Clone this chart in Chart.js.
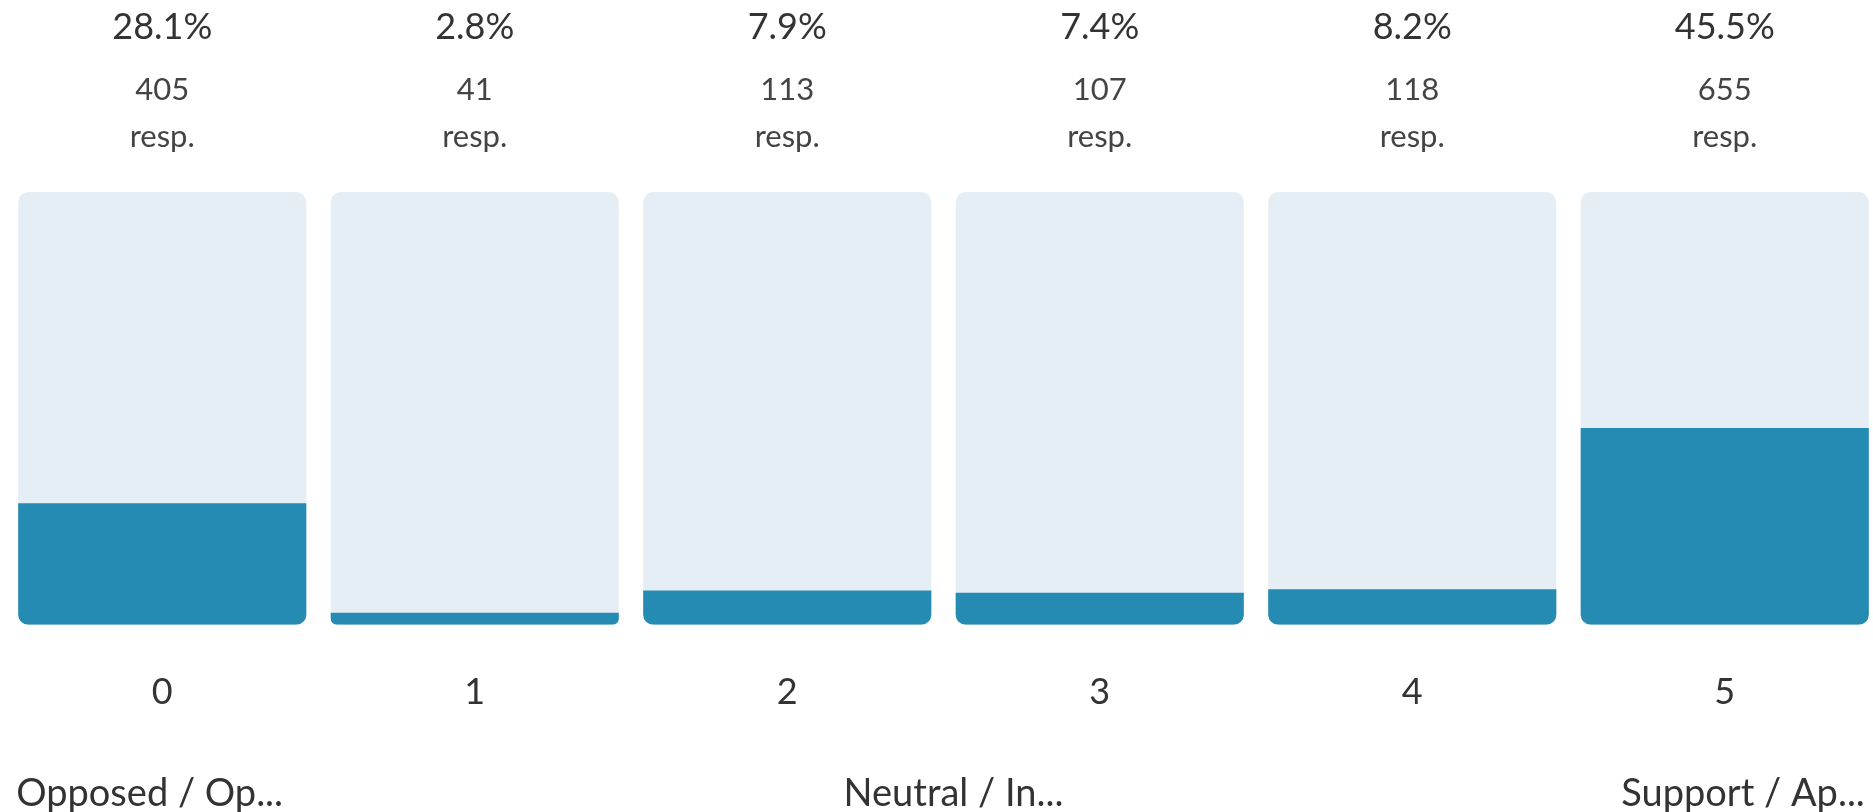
<!DOCTYPE html>
<html>
<head>
<meta charset="utf-8">
<script src="https://cdn.jsdelivr.net/npm/chart.js@4.4.1/dist/chart.umd.min.js"></script>
<style>
    html, body { margin: 0; padding: 0; background: #fff; overflow: hidden; }
    #wrap { width: 1881px; height: 812px; position: relative; }
</style>
</head>
<body>
<div id="wrap"><canvas id="chart"></canvas></div>
<script>
// Scale points and answers
const scaleLabels = ["0", "1", "2", "3", "4", "5"];
const percents = [28.1, 2.8, 7.9, 7.4, 8.2, 45.5];
const counts = [405, 41, 113, 107, 118, 655];
const trackValues = [100, 100, 100, 100, 100, 100];
const anchorLabels = ["Opposed / Op...", "Neutral / In...", "Support / Ap..."];

const FONT = "Lato, 'Noto Sans', sans-serif";
const FILL = "#258bb2";
const TRACK = "#e6eef5";

// Draws the percent / count labels above each bar and the anchor labels at the bottom
const labelPlugin = {
    id: "labels",
    afterDraw(chart) {
        const ctx = chart.ctx;
        const meta = chart.getDatasetMeta(1);
        ctx.save();
        ctx.textAlign = "center";
        ctx.textBaseline = "alphabetic";
        meta.data.forEach((bar, i) => {
            ctx.fillStyle = "#333";
            ctx.font = "36px " + FONT;
            ctx.fillText(percents[i].toFixed(1) + "%", bar.x, 39);
            ctx.fillStyle = "#444";
            ctx.font = "31px " + FONT;
            ctx.fillText(String(counts[i]), bar.x, 100);
            ctx.fillText("resp.", bar.x, 147);
        });

        // anchor labels under the scale
        const first = meta.data[0];
        const last = meta.data[meta.data.length - 1];
        const left = first.x - first.width / 2;
        const right = last.x + last.width / 2;
        ctx.fillStyle = "#333";
        ctx.font = "38px " + FONT;
        ctx.textAlign = "left";
        ctx.fillText(anchorLabels[0], left - 2, 806);
        ctx.textAlign = "center";
        ctx.fillText(anchorLabels[1], (meta.data[2].x + meta.data[3].x) / 2 + 10, 806);
        ctx.textAlign = "right";
        ctx.fillText(anchorLabels[2], right - 4, 806);
        ctx.restore();
    }
};

const canvas = document.getElementById("chart");

new Chart(canvas, {
    type: "bar",
    data: {
        labels: scaleLabels,
        datasets: [
            {
                // share of answers, drawn on top of the track
                data: percents,
                backgroundColor: FILL,
                borderRadius: { topLeft: 0, topRight: 0, bottomLeft: 10, bottomRight: 10 },
                borderSkipped: false,
                barPercentage: 0.922,
                categoryPercentage: 1
            },
            {
                // full-height background track
                data: trackValues,
                backgroundColor: TRACK,
                borderRadius: 10,
                borderSkipped: false,
                barPercentage: 0.922,
                categoryPercentage: 1
            }
        ]
    },
    plugins: [labelPlugin],
    options: {
        responsive: true,
        maintainAspectRatio: false,
        animation: false,
        layout: {
            padding: { left: 6, right: 0, top: 192, bottom: 52 }
        },
        plugins: {
            legend: { display: false },
            tooltip: { enabled: false }
        },
        scales: {
            x: {
                stacked: true,
                grid: { display: false, drawTicks: false },
                border: { display: false },
                ticks: {
                    color: "#333",
                    padding: 46,
                    font: { family: FONT, size: 36 }
                }
            },
            y: {
                stacked: false,
                display: false,
                min: 0,
                max: 100
            }
        }
    }
});
</script>
</body>
</html>
